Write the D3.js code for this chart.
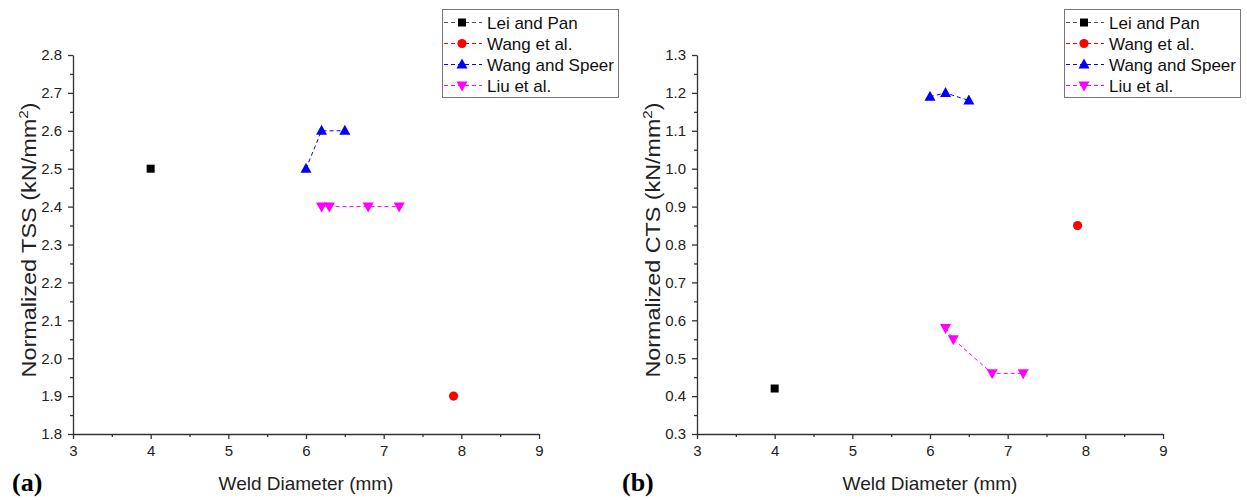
<!DOCTYPE html>
<html>
<head>
<meta charset="utf-8">
<script src="https://cdn.jsdelivr.net/npm/d3@7"></script>
<style>
  body { margin: 0; background: #fff; }
  text { font-family: "Liberation Sans", Arial, sans-serif; fill: #222; }
</style>
</head>
<body>
<svg id="chart" width="1247" height="500"></svg>
<script>
// data
const seriesNames = ["Lei and Pan", "Wang et al.", "Wang and Speer", "Liu et al."];
const seriesColors = ["#000000", "#ff0000", "#0000ff", "#ff00ff"];
const seriesSymbols = ["square", "circle", "up", "down"];

const leiX = [4], leiTSS = [2.5], leiCTS = [0.42];
const wangX = [7.9], wangTSS = [1.9], wangCTS = [0.85];
const speerX = [6, 6.2, 6.5], speerTSS = [2.5, 2.6, 2.6], speerCTS = [1.19, 1.2, 1.18];
const liuX = [6.2, 6.3, 6.8, 7.2], liuTSS = [2.4, 2.4, 2.4, 2.4], liuCTS = [0.58, 0.55, 0.46, 0.46];

const xTicks = [3, 4, 5, 6, 7, 8, 9];
const tssTicks = [1.8, 1.9, 2.0, 2.1, 2.2, 2.3, 2.4, 2.5, 2.6, 2.7, 2.8];
const ctsTicks = [0.3, 0.4, 0.5, 0.6, 0.7, 0.8, 0.9, 1.0, 1.1, 1.2, 1.3];

const svg = d3.select("#chart");

const panels = [
  { label: "(a)", left: 73, yDomain: [1.8, 2.8], yTicks: tssTicks, yTitle: "Normalized TSS (kN/mm",
    ys: [leiTSS, wangTSS, speerTSS, liuTSS], legendX: 442, labelX: 12 },
  { label: "(b)", left: 697, yDomain: [0.3, 1.3], yTicks: ctsTicks, yTitle: "Normalized CTS (kN/mm",
    ys: [leiCTS, wangCTS, speerCTS, liuCTS], legendX: 1064, labelX: 622 }
];
const xsAll = [leiX, wangX, speerX, liuX];

function drawSymbol(g, type, x, y, color) {
  if (type === "square") {
    g.append("rect").attr("x", x - 4).attr("y", y - 4).attr("width", 8).attr("height", 8).attr("fill", color);
  } else if (type === "circle") {
    g.append("circle").attr("cx", x).attr("cy", y).attr("r", 4.6).attr("fill", color);
  } else if (type === "up") {
    g.append("path").attr("d", `M${x},${y - 6}L${x + 5.5},${y + 4}L${x - 5.5},${y + 4}Z`).attr("fill", color);
  } else {
    g.append("path").attr("d", `M${x},${y + 6}L${x + 5.5},${y - 4}L${x - 5.5},${y - 4}Z`).attr("fill", color);
  }
}

panels.forEach(p => {
  const x = d3.scaleLinear().domain([3, 9]).range([p.left, p.left + 466]);
  const y = d3.scaleLinear().domain(p.yDomain).range([434, 55]);
  const g = svg.append("g");

  // minor ticks
  g.append("g").attr("transform", "translate(0,434)")
    .call(d3.axisBottom(x).tickValues(d3.range(3.5, 9, 1)).tickSize(3).tickFormat(""))
    .call(a => a.select(".domain").remove());
  g.append("g").attr("transform", `translate(${p.left},0)`)
    .call(d3.axisLeft(y).tickValues(p.yTicks.slice(0, -1).map(v => v + 0.05)).tickSize(3).tickFormat(""))
    .call(a => a.select(".domain").remove());

  // major axes
  const xa = g.append("g").attr("transform", "translate(0,434)")
    .call(d3.axisBottom(x).tickValues(xTicks).tickSize(5).tickSizeOuter(0).tickPadding(6).tickFormat(d3.format("d")));
  const ya = g.append("g").attr("transform", `translate(${p.left},0)`)
    .call(d3.axisLeft(y).tickValues(p.yTicks).tickSize(5).tickSizeOuter(0).tickPadding(6).tickFormat(d3.format(".1f")));
  [xa, ya].forEach(a => {
    a.selectAll("text").style("font-size", "15px").style("fill", "#222");
    a.selectAll("line,path").attr("stroke", "#333").attr("stroke-width", 1.3);
  });
  g.selectAll(".tick line").attr("stroke", "#333").attr("stroke-width", 1.3);

  // titles
  g.append("text").attr("x", p.left + 233).attr("y", 490).attr("text-anchor", "middle")
    .style("font-size", "19px").text("Weld Diameter (mm)");
  const yt = g.append("text").attr("transform", `translate(${p.left - 37},240) rotate(-90)`)
    .attr("text-anchor", "middle").style("font-size", "20px")
    .attr("textLength", 275).attr("lengthAdjust", "spacingAndGlyphs");
  yt.append("tspan").text(p.yTitle);
  yt.append("tspan").attr("dy", -8).style("font-size", "13px").text("2");
  yt.append("tspan").attr("dy", 8).text(")");

  g.append("text").attr("x", p.labelX).attr("y", 491)
    .style("font-family", "'Liberation Serif', 'Times New Roman', serif")
    .style("font-weight", "bold").style("font-size", "26px").style("fill", "#000").text(p.label);

  // series
  const line = d3.line().x(d => x(d[0])).y(d => y(d[1]));
  seriesNames.forEach((name, i) => {
    const pts = xsAll[i].map((v, j) => [v, p.ys[i][j]]);
    if (pts.length > 1) {
      g.append("path").datum(pts).attr("d", line).attr("fill", "none")
        .attr("stroke", seriesColors[i]).attr("stroke-width", 1).attr("stroke-dasharray", "4,3");
    }
    pts.forEach(d => drawSymbol(g, seriesSymbols[i], x(d[0]), y(d[1]), seriesColors[i]));
  });

  // legend
  const lg = g.append("g").attr("transform", `translate(${p.legendX},9)`);
  lg.append("rect").attr("x", 0.5).attr("y", 0.5).attr("width", 176).attr("height", 88).attr("fill", "#fff")
    .attr("stroke", "#777").attr("stroke-width", 1);
  seriesNames.forEach((name, i) => {
    const cy = 13.5 + i * 21;
    lg.append("line").attr("x1", 2).attr("x2", 40).attr("y1", cy).attr("y2", cy)
      .attr("stroke", i === 0 ? "#555" : seriesColors[i]).attr("stroke-width", 1).attr("stroke-dasharray", "4,3");
    drawSymbol(lg, seriesSymbols[i], 20, cy, seriesColors[i]);
    lg.append("text").attr("x", 45).attr("y", cy + 6).style("font-size", "17px").style("fill", "#111").text(name);
  });
});
</script>
</body>
</html>
